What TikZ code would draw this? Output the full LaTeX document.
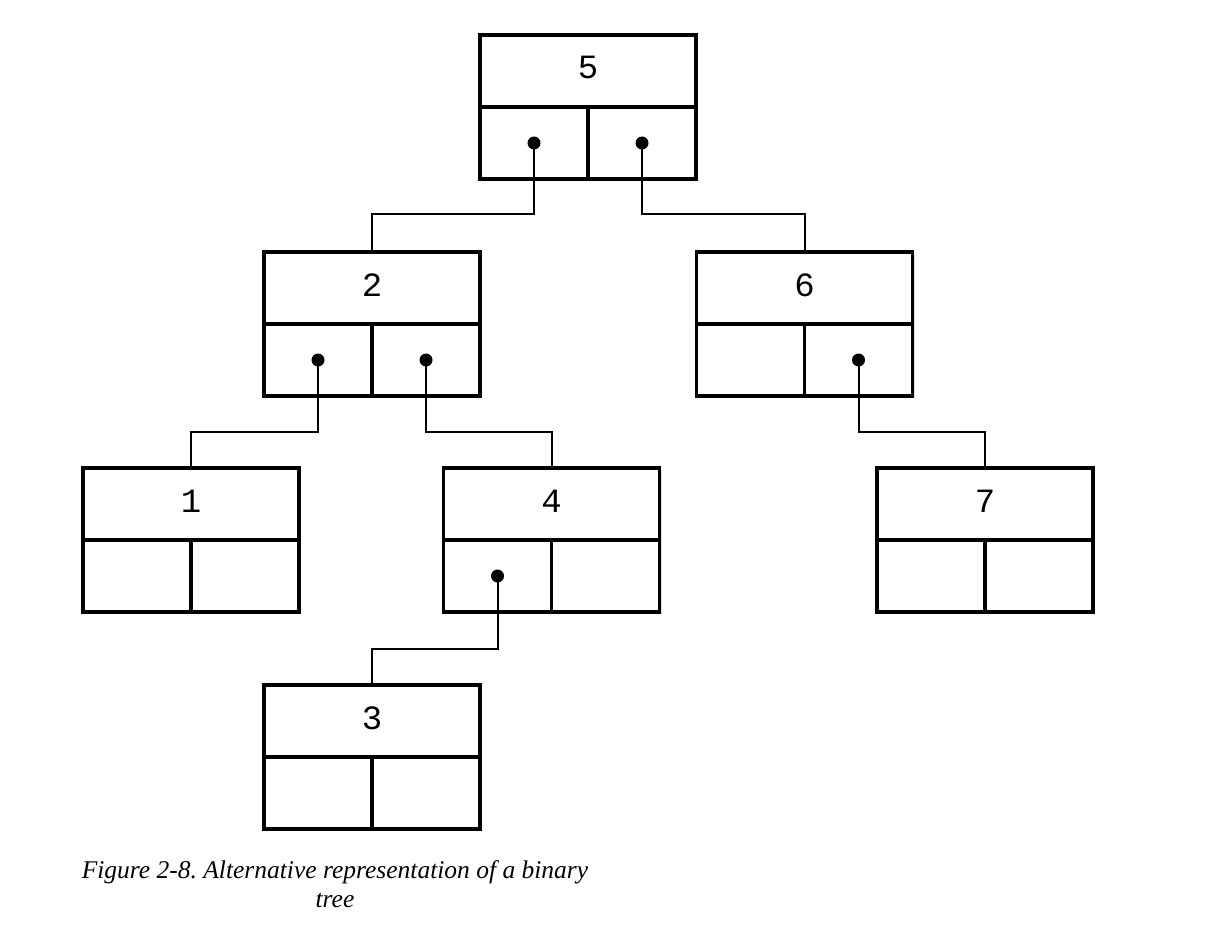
\documentclass[tikz,border=0pt]{standalone}
\usepackage{fontspec}
\setmainfont{Liberation Serif}
\newfontfamily\monofont{Liberation Mono}
\usetikzlibrary{shadows,calc}
\begin{document}
\frenchspacing
\begin{tikzpicture}[x=1pt,y=-1pt,
  treebox/.style={draw, line width=3.5pt, minimum width=216pt, minimum height=144pt,
    inner sep=0pt, fill=white,
    drop shadow={opacity=0.25, shadow xshift=2pt, shadow yshift=-2pt}},
  sepline/.style={line width=3.5pt},
  num/.style={font=\monofont\fontsize{34}{34}\selectfont, inner sep=0pt},
  ptr/.style={circle, fill=black, inner sep=0pt, minimum size=13pt},
  link/.style={line width=2pt}]
\useasboundingbox (0,0) rectangle (1206,928);
\fill[white] (0,0) rectangle (1206,928);

% boxes
\foreach \n/\x/\y in {5/588/107, 2/372/324, 6/804.5/324, 1/191/540, 4/551.5/540, 7/985/540, 3/372/757}{
  \node[treebox] (b\n) at (\x,\y) {};
  \draw[sepline] (b\n.west) -- (b\n.east);
  \draw[sepline] (b\n.center) -- (b\n.south);
  \node[num] (t\n) at ($(b\n.north)!0.47!(b\n.center)$) {\n};
}

% pointer dots
\node[ptr] (p5l) at ($(b5.center)+(-54,36)$) {};
\node[ptr] (p5r) at ($(b5.center)+(54,36)$) {};
\node[ptr] (p2l) at ($(b2.center)+(-54,36)$) {};
\node[ptr] (p2r) at ($(b2.center)+(54,36)$) {};
\node[ptr] (p6r) at ($(b6.center)+(54,36)$) {};
\node[ptr] (p4l) at ($(b4.center)+(-54,36)$) {};

% connectors
\draw[link] (p5l.center) -- (p5l.center |- 0,214) -| (b2.north);
\draw[link] (p5r.center) -- (p5r.center |- 0,214) -| (b6.north);
\draw[link] (p2l.center) -- (p2l.center |- 0,432) -| (b1.north);
\draw[link] (p2r.center) -- (p2r.center |- 0,432) -| (b4.north);
\draw[link] (p6r.center) -- (p6r.center |- 0,432) -| (b7.north);
\draw[link] (p4l.center) -- (p4l.center |- 0,649) -| (b3.north);

% caption
\node[align=center, font=\itshape\fontsize{25.5}{29}\selectfont, inner sep=0pt] (cap) at (335,884)
  {Figure 2-8. Alternative representation of a binary\\tree};
\end{tikzpicture}
\end{document}
